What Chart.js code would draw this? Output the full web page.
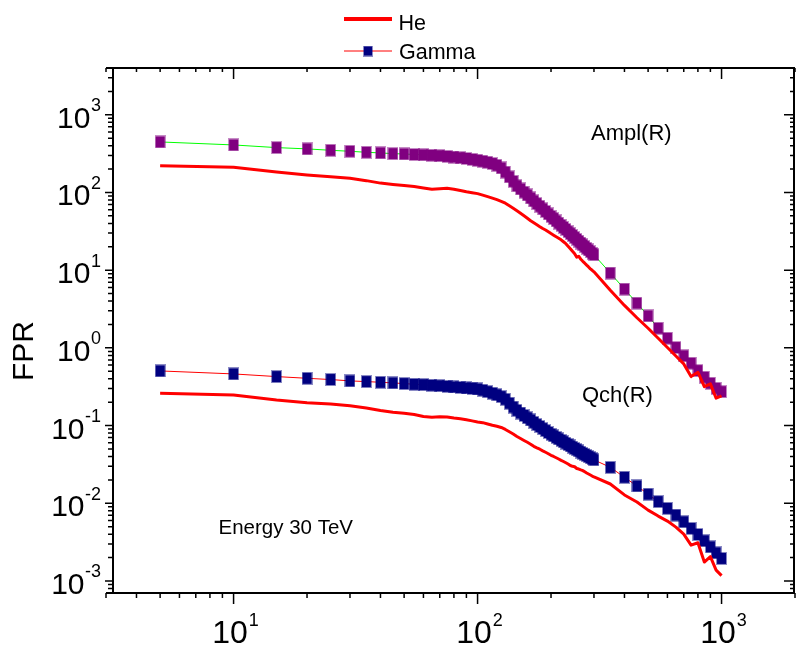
<!DOCTYPE html>
<html>
<head>
<meta charset="utf-8">
<script src="https://cdn.jsdelivr.net/npm/chart.js@4.4.1/dist/chart.umd.min.js"></script>
<style>
html, body { margin: 0; padding: 0; background: #fff; }
</style>
</head>
<body>
<canvas id="fpr" width="796" height="646"></canvas>
<script>
// distance R, shared by all four curves
const rValues = [5,10,15,20,25,30,35,40,45,50,55,60,65,70,75,80,85,90,95,100,
  105,110,115,120,125,130,135,140,145,150,155,160,165,170,175,180,185,190,195,200,
  205,210,215,220,225,230,235,240,245,250,255,260,265,270,275,280,285,290,295,300,
  350,400,450,500,550,600,650,700,750,800,850,900,950,1000];

// Ampl(R)
const gammaAmpl = [447,409,378,364,349,339,329,323,316,313,
  308,305,301,297,292,286,280,274,267,260,
  253,245,236,224,207,183,159,139,122,111,
  101,92.9,84.9,77.9,71.9,66.6,61.6,57.1,53.0,49.3,
  46.1,43.1,40.3,37.8,35.5,33.4,31.3,29.5,27.9,26.3,
  24.9,23.6,22.3,21.2,20.1,19.1,18.2,17.3,16.5,15.8,
  9.18,5.71,3.77,2.58,1.79,1.33,1.01,0.789,0.635,0.510,0.419,0.351,0.302,0.273];
const heAmpl = [221,211,183,168,159,152,142,132,127,123,
  119,114,110,112,113,110,106,102,99.4,96.6,
  92.3,88.3,84.5,80.8,76.8,72.8,67.6,62.8,58.3,54.1,
  50.2,46.6,43.3,40.8,38.5,36.3,34.4,32.9,31.2,29.6,
  28.2,26.9,25.8,24.6,23.2,21.9,20.3,18.9,17.5,16.3,
  14.7,15.1,13.8,13.0,12.3,11.6,11.0,10.4,9.97,9.53,
  5.51,3.52,2.44,1.79,1.33,1.01,0.787,0.622,0.427,0.486,0.317,0.344,0.225,0.241];

// Qch(R)
const gammaQch = [0.505,0.462,0.427,0.406,0.391,0.376,0.368,0.361,0.354,0.347,
  0.340,0.336,0.330,0.326,0.320,0.314,0.310,0.305,0.301,0.296,
  0.285,0.273,0.261,0.249,0.236,0.218,0.194,0.173,0.157,0.145,
  0.135,0.126,0.118,0.110,0.103,0.0973,0.0915,0.0862,0.0815,0.0773,
  0.0737,0.0704,0.0674,0.0645,0.0618,0.0593,0.0569,0.0547,0.0527,0.0507,
  0.0488,0.0471,0.0454,0.0438,0.0424,0.0411,0.0397,0.0385,0.0373,0.0362,
  0.0290,0.0216,0.0167,0.0131,0.0105,0.00860,0.00704,0.00578,0.00475,0.00397,0.00329,0.00275,0.00230,0.00195];
const heQch = [0.261,0.248,0.214,0.197,0.190,0.180,0.168,0.156,0.148,0.144,
  0.139,0.131,0.128,0.130,0.129,0.125,0.122,0.119,0.115,0.111,
  0.109,0.105,0.101,0.0980,0.0946,0.0891,0.0832,0.0779,0.0724,0.0682,
  0.0643,0.0609,0.0576,0.0541,0.0517,0.0496,0.0473,0.0453,0.0434,0.0414,
  0.0400,0.0385,0.0371,0.0357,0.0345,0.0332,0.0320,0.0306,0.0299,0.0295,
  0.0280,0.0276,0.0269,0.0263,0.0254,0.0245,0.0238,0.0231,0.0224,0.0218,
  0.0177,0.0128,0.0104,0.00817,0.00684,0.00590,0.00493,0.00401,0.00289,0.00310,0.00175,0.00206,0.00138,0.00117];

const xMajorTicks = [10, 100, 1000];
const yMajorTicks = [1e-3, 1e-2, 1e-1, 1, 10, 100, 1000];

const FONT = '"Liberation Sans", Arial, sans-serif';

function pts(vals) {
  return vals.map((v, i) => ({ x: rValues[i], y: v }));
}

// small square markers with a soft, half-transparent edge
function makeMarker(fill, edge, w, h) {
  const c = document.createElement('canvas');
  c.width = w; c.height = h;
  const g = c.getContext('2d');
  g.fillStyle = edge;
  g.fillRect(0, 0, w, h);
  g.clearRect(1, 1, w - 2, h - 2);
  g.fillStyle = fill;
  g.fillRect(1, 1, w - 2, h - 2);
  return c;
}
const purpleMark = makeMarker('#800080', 'rgba(128,0,128,0.45)', 11, 13);
const navyMark = makeMarker('#000080', 'rgba(0,0,128,0.45)', 11, 13);

function eachLogTick(min, max, fn) {
  const e0 = Math.floor(Math.log10(min)), e1 = Math.ceil(Math.log10(max));
  for (let e = e0; e <= e1; e++) {
    for (let m = 1; m <= 9; m++) {
      const v = m * Math.pow(10, e);
      if (v >= min * 0.999 && v <= max * 1.001) fn(v, m === 1);
    }
  }
}

function text(ctx, s, x, y, size, align) {
  ctx.font = size + 'px ' + FONT;
  ctx.textAlign = align || 'left';
  ctx.textBaseline = 'alphabetic';
  ctx.fillText(s, x, y);
  return ctx.measureText(s).width;
}

// "10" with a superscript exponent
function powerLabel(ctx, v, size, supSize) {
  const exp = String(Math.round(Math.log10(v)));
  ctx.font = size + 'px ' + FONT;
  const wBase = ctx.measureText('10').width;
  ctx.font = supSize + 'px ' + FONT;
  const wSup = ctx.measureText(exp).width;
  return { exp, wBase, wSup };
}

const frameAndText = {
  id: 'frameAndText',
  afterDatasetsDraw(chart) {
    const { ctx, chartArea: a, scales: { x, y } } = chart;
    const yAxisX = a.left + 7, rightX = a.right - 1;
    ctx.save();
    ctx.strokeStyle = '#000';
    ctx.fillStyle = '#000';

    ctx.lineWidth = 2;
    ctx.beginPath();
    ctx.moveTo(a.left, a.top); ctx.lineTo(a.right, a.top);
    ctx.moveTo(a.left, a.bottom); ctx.lineTo(a.right, a.bottom);
    ctx.moveTo(yAxisX, a.top - 1); ctx.lineTo(yAxisX, a.bottom + 1);
    ctx.moveTo(rightX, a.top - 1); ctx.lineTo(rightX, a.bottom + 1);
    ctx.stroke();

    ctx.lineWidth = 1.5;
    ctx.beginPath();
    eachLogTick(x.min, x.max, (v, major) => {
      const px = x.getPixelForValue(v);
      ctx.moveTo(px, a.bottom); ctx.lineTo(px, a.bottom + (major ? 11 : 5));
      ctx.moveTo(px, a.top); ctx.lineTo(px, a.top + (major ? 11 : 4));
    });
    eachLogTick(y.min, y.max, (v, major) => {
      const py = y.getPixelForValue(v);
      ctx.moveTo(yAxisX, py); ctx.lineTo(yAxisX - (major ? 8 : 5), py);
      ctx.moveTo(rightX, py); ctx.lineTo(rightX - (major ? 10 : 4), py);
    });
    ctx.stroke();

    // x tick labels
    xMajorTicks.forEach(v => {
      const px = x.getPixelForValue(v);
      const { exp, wBase, wSup } = powerLabel(ctx, v, 32, 18);
      const left = px + 2 - (wBase + 1 + wSup) / 2;
      text(ctx, '10', left, 643, 32);
      text(ctx, exp, left + wBase + 1, 625.5, 18);
    });

    // y tick labels
    yMajorTicks.forEach(v => {
      const py = y.getPixelForValue(v);
      const { exp, wBase, wSup } = powerLabel(ctx, v, 30, 18);
      const right = 101;
      text(ctx, exp, right - wSup, py - 3.5, 18);
      text(ctx, '10', right - wSup - 0.5 - wBase, py + 13, 30);
    });

    // axis title
    ctx.save();
    ctx.translate(25, 351);
    ctx.rotate(-Math.PI / 2);
    ctx.font = '30px ' + FONT;
    ctx.textAlign = 'center';
    ctx.textBaseline = 'middle';
    ctx.fillText('FPR', 0, 0);
    ctx.restore();

    // curve annotations
    text(ctx, 'Ampl(R)', 591, 139.5, 22);
    text(ctx, 'Qch(R)', 582, 402, 22);
    text(ctx, 'Energy 30 TeV', 218.5, 534, 20.5);

    // legend
    const he = chart.data.datasets[0], gam = chart.data.datasets[3];
    ctx.lineCap = 'butt';
    ctx.strokeStyle = he.borderColor;
    ctx.lineWidth = 4;
    ctx.beginPath(); ctx.moveTo(344, 19); ctx.lineTo(392, 19); ctx.stroke();
    ctx.strokeStyle = gam.borderColor;
    ctx.lineWidth = 1;
    ctx.beginPath(); ctx.moveTo(344, 51); ctx.lineTo(392, 51); ctx.stroke();
    ctx.drawImage(makeMarker('#000080', 'rgba(0,0,128,0.45)', 10, 11), 363, 45.5);
    ctx.fillStyle = '#000';
    text(ctx, he.label, 398.5, 29.5, 21.5);
    text(ctx, gam.label, 399, 59, 21.5);

    ctx.restore();
  }
};

new Chart(document.getElementById('fpr'), {
  type: 'line',
  data: {
    datasets: [
      { label: 'He', data: pts(heAmpl), borderColor: '#ff0000', borderWidth: 3,
        pointRadius: 0, order: 0 },
      { label: 'Gamma', data: pts(gammaAmpl), borderColor: '#00ff00', borderWidth: 1,
        pointStyle: purpleMark, pointRadius: 6, order: 1 },
      { label: 'He', data: pts(heQch), borderColor: '#ff0000', borderWidth: 3,
        pointRadius: 0, order: 0 },
      { label: 'Gamma', data: pts(gammaQch), borderColor: '#ff0000', borderWidth: 1,
        pointStyle: navyMark, pointRadius: 6, order: 1 }
    ]
  },
  options: {
    responsive: false,
    animation: false,
    devicePixelRatio: 1,
    // the plot frame runs from x=106 to x=795 and y=68 to y=593
    layout: { autoPadding: false, padding: { left: 106, right: 1, top: 68, bottom: 53 } },
    elements: { line: { tension: 0, borderJoinStyle: 'round' } },
    scales: {
      x: { type: 'logarithmic', min: 3, max: 2000, display: false },
      y: { type: 'logarithmic', min: 7e-4, max: 4000, display: false }
    },
    plugins: {
      legend: { display: false },
      tooltip: { enabled: false }
    }
  },
  plugins: [frameAndText]
});
</script>
</body>
</html>
